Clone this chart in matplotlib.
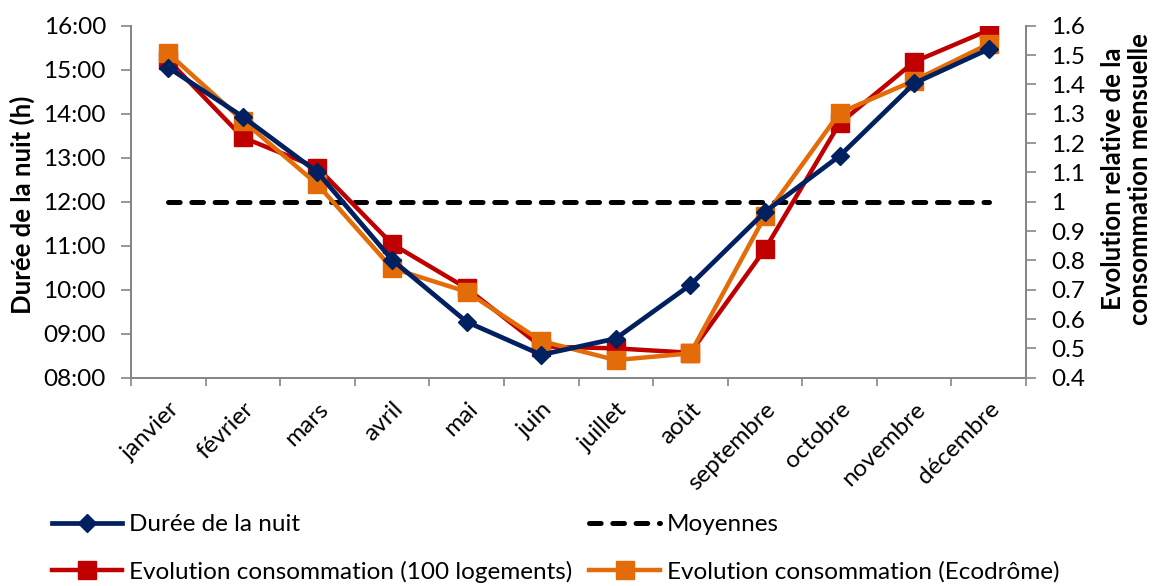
import numpy as np
import matplotlib
matplotlib.use("Agg")
import matplotlib.pyplot as plt
from matplotlib.lines import Line2D
from matplotlib.transforms import ScaledTranslation

plt.rcParams['font.family'] = ['Lato', 'DejaVu Sans']

# data
mois = ["janvier", "février", "mars", "avril", "mai", "juin", "juillet",
        "août", "septembre", "octobre", "novembre", "décembre"]
# night length in hours
duree_nuit = [15.05, 13.93, 12.67, 10.68, 9.27, 8.52, 8.89, 10.11, 11.77, 13.04, 14.69, 15.47]
# relative monthly consumption
conso_100 = [1.483, 1.219, 1.116, 0.856, 0.705, 0.506, 0.500, 0.485, 0.838, 1.267, 1.477, 1.585]
conso_eco = [1.506, 1.276, 1.059, 0.773, 0.693, 0.525, 0.460, 0.483, 0.951, 1.303, 1.413, 1.538]
moyenne = [1.0] * len(mois)

navy = "#002060"
red = "#C00000"
orange = "#E36C09"
gris = "#868686"
fs = 17.5

x = np.arange(len(mois))

fig = plt.figure(figsize=(11.59, 5.86), dpi=100)
ax = fig.add_axes([0.113, 0.3555, 0.7723, 0.6006])
ax2 = ax.twinx()

# left axis: night length
ax.plot(x, duree_nuit, color=navy, lw=3.4, marker="D", ms=9.5, mec=navy)
ax.set_ylim(8, 16)
ax.set_yticks(np.arange(8, 17, 1))
ax.set_yticklabels([f"{h:02d}:00" for h in range(8, 17)])

# right axis: consumption
ax2.plot(x, moyenne, color="black", lw=3.6, ls=(0, (2.33, 2.33)),
         dash_capstyle="round")
ax2.plot(x, conso_100, color=red, lw=3.2, marker="s", ms=13, mec=red)
ax2.plot(x, conso_eco, color=orange, lw=3.2, marker="s", ms=13, mec=orange)
ax2.set_ylim(0.4, 1.6)
rt = np.round(np.arange(0.4, 1.61, 0.1), 1)
ax2.set_yticks(rt)
ax2.set_yticklabels([f"{v:g}" for v in rt])

# put the night line above the others
ax.set_zorder(ax2.get_zorder() + 1)
ax.patch.set_visible(False)

# axis titles
fig.text(0.019, 0.65, "Durée de la nuit (h)", rotation=90, ha="center",
         va="center", fontsize=18.5, fontweight="bold")
fig.text(0.972, 0.695, "Evolution relative de la\nconsommation mensuelle",
         rotation=90, ha="center", va="center", fontsize=18.5,
         fontweight="bold", linespacing=1.15)

# category axis with ticks between categories
ax.set_xlim(-0.5, len(mois) - 0.5)
ax.set_xticks(np.arange(-0.5, len(mois), 1))
ax.set_xticklabels([])
ax.set_xticks(x, minor=True)
ax.set_xticklabels(mois, minor=True, rotation=45, ha="right",
                   rotation_mode="anchor", fontsize=fs)
shift = ScaledTranslation(-5 / 100, 0, fig.dpi_scale_trans)
for lab in ax.get_xticklabels(minor=True):
    lab.set_transform(lab.get_transform() + shift)
ax.tick_params(axis="x", which="minor", length=0, pad=15)
ax.tick_params(axis="x", which="major", length=6, width=1.2, color=gris)
ax.tick_params(axis="y", length=7, width=1.2, color=gris, labelsize=fs, pad=11)
ax2.tick_params(axis="y", length=7, width=1.2, color=gris, labelsize=fs, pad=11)

for a in (ax, ax2):
    a.spines["top"].set_visible(False)
    for s in ("left", "right", "bottom"):
        a.spines[s].set_color(gris)
        a.spines[s].set_linewidth(1.4)

h_nuit = Line2D([], [], color=navy, lw=3.4, marker="D", ms=9.5, mec=navy)
h_100 = Line2D([], [], color=red, lw=3.2, marker="s", ms=13, mec=red)
h_moy = Line2D([], [], color="black", lw=3.6, ls=(0, (2.33, 2.33)),
               dash_capstyle="round")
h_eco = Line2D([], [], color=orange, lw=3.2, marker="s", ms=13, mec=orange)

leg_kw = dict(loc="upper left", frameon=False, fontsize=fs, handlelength=2.9,
              handletextpad=0.3, labelspacing=1.05, borderpad=0, numpoints=1)
fig.legend([h_nuit, h_100],
           ["Durée de la nuit", "Evolution consommation (100 logements)"],
           bbox_to_anchor=(0.034, 0.143), **leg_kw)
fig.legend([h_moy, h_eco], ["Moyennes", "Evolution consommation (Ecodrôme)"],
           bbox_to_anchor=(0.498, 0.143), **leg_kw)

fig.savefig("out.png", dpi=100)
